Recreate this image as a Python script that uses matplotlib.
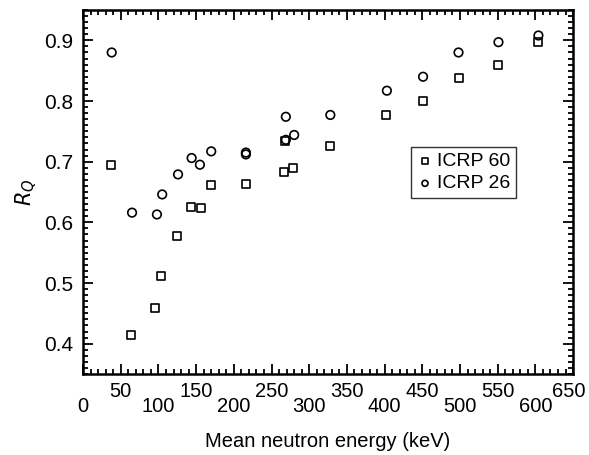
import matplotlib
matplotlib.use("Agg")
import matplotlib.pyplot as plt
import matplotlib.transforms as mtransforms
from matplotlib.ticker import MultipleLocator

plt.rcParams['font.family'] = ['Liberation Sans', 'DejaVu Sans']

# ICRP 60 (squares)
e60 = [37, 64, 96, 104, 124, 143, 156, 170, 216, 267, 268, 279, 328, 402, 451, 498, 550, 604]
r60 = [0.695, 0.414, 0.459, 0.511, 0.578, 0.626, 0.624, 0.661, 0.664, 0.683, 0.734, 0.690,
       0.726, 0.777, 0.800, 0.838, 0.860, 0.897]
# ICRP 26 (circles)
e26 = [38, 65, 98, 105, 126, 144, 155, 170, 216, 216, 269, 269, 280, 328, 403, 451, 498, 551, 604]
r26 = [0.880, 0.616, 0.613, 0.646, 0.679, 0.706, 0.695, 0.717, 0.712, 0.715, 0.774, 0.736, 0.744,
       0.777, 0.817, 0.840, 0.880, 0.897, 0.908]

xticks = list(range(0, 651, 50))

fig = plt.figure(figsize=(5.89, 4.55), dpi=100)
ax = fig.add_axes([0.141, 0.178, 0.832, 0.8])

ax.scatter(e60, r60, marker='s', s=28, facecolors='white', edgecolors='black',
           linewidths=1.2, label='ICRP 60', zorder=3)
ax.scatter(e26, r26, marker='o', s=38, facecolors='none', edgecolors='black',
           linewidths=1.2, label='ICRP 26', zorder=3)

ax.set_xlim(0, 650)
ax.set_ylim(0.35, 0.95)

ax.set_xticks(xticks)
ax.set_xticklabels([])
ax.xaxis.set_minor_locator(MultipleLocator(10))
ax.yaxis.set_minor_locator(MultipleLocator(0.01))
ax.set_yticks([0.4, 0.5, 0.6, 0.7, 0.8, 0.9])
ax.set_yticklabels(['0.4', '0.5', '0.6', '0.7', '0.8', '0.9'])

ax.tick_params(which='both', direction='in', top=True, right=True, width=1.3)
ax.tick_params(which='major', length=7, labelsize=15)
ax.tick_params(which='minor', length=3.5)
ax.tick_params(axis='y', pad=7)

# staggered x tick labels
base = ax.get_xaxis_transform()
for v in xticks:
    off = -0.062 if (v // 50) % 2 == 0 else -0.023
    tr = base
    if v == xticks[-1]:
        tr = base + mtransforms.ScaledTranslation(-4 / 100, 0, fig.dpi_scale_trans)
    ax.text(v, off, str(v), transform=tr, ha='center', va='top', fontsize=14.5)

for s in ax.spines.values():
    s.set_linewidth(1.8)

ax.set_xlabel('Mean neutron energy (keV)', fontsize=14.5, labelpad=38)
ax.set_ylabel(r'$R_Q$', fontsize=15, labelpad=4)

leg = ax.legend(loc='upper left', bbox_to_anchor=(0.67, 0.625), fontsize=14,
                frameon=True, fancybox=False, edgecolor='black', handletextpad=0.2,
                borderpad=0.3, labelspacing=0.25, handlelength=0.8, markerscale=0.7,
                borderaxespad=0)
leg.get_frame().set_linewidth(1.0)

fig.savefig('out.png', dpi=100)
